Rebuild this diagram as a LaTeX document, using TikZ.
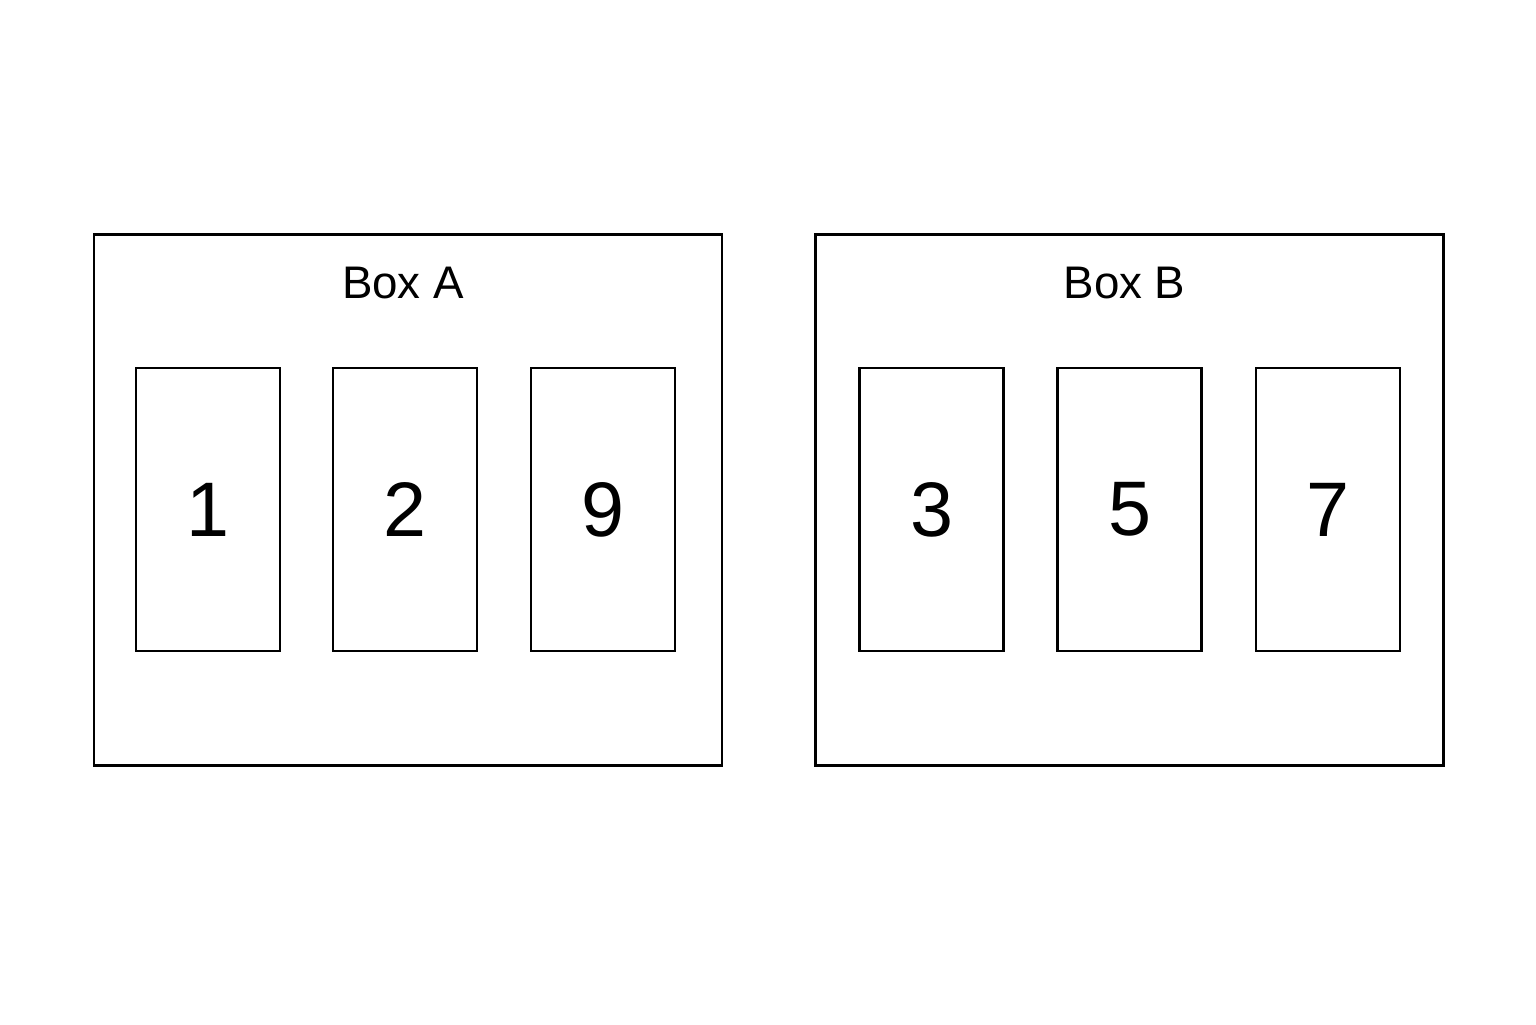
\documentclass[tikz,border=0pt]{standalone}
\usepackage{fontspec}
\setmainfont{Liberation Sans}
\usetikzlibrary{positioning}
\newcommand{\cardNode}[3]{%%
  \node[cardStyle] (#1) at (#2) {#3};
}
\newcommand{\boxFrame}[3]{%%
  %% The outer frame and its title.
  \node[boxStyle] (#1) at (#2) {};
  \node[titleStyle] (#1title) at ([xshift=-0.05cm,yshift=-0.5cm]#1.north) {#3};
}

\begin{document}
\begin{tikzpicture}[%%
  boxStyle/.style={draw,line width=0.6pt,minimum width=6.28cm,minimum height=5.31cm,inner sep=0pt},%%
  cardStyle/.style={draw,line width=0.6pt,minimum width=1.44cm,minimum height=2.83cm,inner sep=0pt,font=\fontsize{22}{22}\selectfont},%%
  titleStyle/.style={font=\fontsize{13}{13}\selectfont}%%
]
%%
%%
\useasboundingbox (0,0) rectangle (15.36,10.24);
%% The two boxes.
\coordinate (centerA) at (4.08,5.24);
\coordinate (centerB) at (11.295,5.24);
\boxFrame{boxA}{centerA}{Box A}
\boxFrame{boxB}{centerB}{Box B}
%% The cards in box A.
\cardNode{cardOne}{2.08,5.145}{1}
\cardNode{cardTwo}{4.05,5.145}{2}
\cardNode{cardNine}{6.03,5.145}{9}
%% The cards in box B.
\cardNode{cardThree}{9.315,5.145}{3}
\cardNode{cardFive}{11.295,5.145}{5}
\cardNode{cardSeven}{13.28,5.145}{7}
\end{tikzpicture}
\end{document}
